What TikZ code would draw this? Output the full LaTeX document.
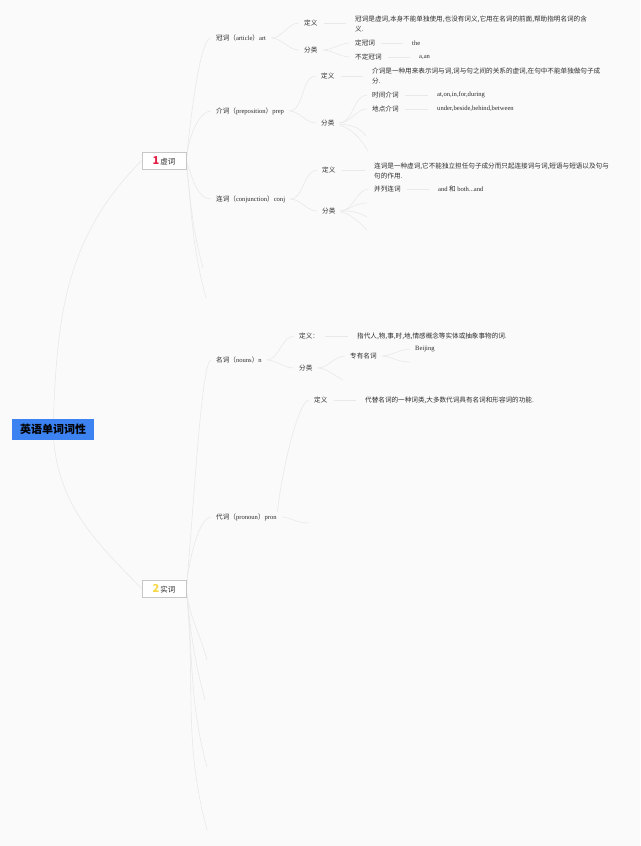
\documentclass[tikz,border=0pt]{standalone}
\usepackage{fontspec}
\setmainfont{Noto Sans CJK SC}
\newfontfamily\en{Liberation Serif}
\usetikzlibrary{backgrounds}

\definecolor{linec}{RGB}{233,233,235}
\definecolor{txt}{RGB}{45,45,45}
\definecolor{rootblue}{RGB}{60,130,240}
\definecolor{bgc}{RGB}{250,250,251}
\definecolor{numred}{RGB}{226,34,70}
\definecolor{numyel}{RGB}{247,216,72}

\begin{document}
\begin{tikzpicture}[x=1pt, y=1pt,
    every node/.style={inner sep=0pt, text=txt, font=\fontsize{6.6}{10}\selectfont},
    tl/.style={anchor=west},
    note/.style={anchor=west, align=left},
    topic/.style={draw=black!22, fill=white, minimum width=44pt, minimum height=17pt},
    lk/.style={draw=linec, line width=0.6pt, shorten <=5pt, shorten >=5pt},
    leaf/.style={lk, shorten <=6pt, shorten >=9pt},
    stub/.style={draw=linec, line width=0.6pt, shorten <=5pt},
    rise/.style={out=84, in=180, out distance=60pt, in distance=15pt},
    drop/.style={out=-84, in=105},
    br/.style={out=0, in=180}]
    % page is 640 x 846, origin at the top left corner, y runs down
    \useasboundingbox (0,0) rectangle (640,-846);

    % Root and the two main topics
    \node[fill=rootblue, text=black, minimum width=82pt, minimum height=21pt,
          font=\fontsize{11}{11}\selectfont\bfseries] (root) at (53,-429.5) {英语单词词性};
    \node[topic] (xu) at (164,-160.5)
        {{\fontsize{11}{11}\selectfont\bfseries\color{numred}1}\,{\fontsize{7.5}{8}\selectfont 虚词}};
    \node[topic] (shi) at (164,-588.5)
        {{\fontsize{11}{11}\selectfont\bfseries\color{numyel}2}\,{\fontsize{7.5}{8}\selectfont 实词}};

    % Article
    \node[tl] (gc) at (216,-38) {冠词（{\en article}）{\en art}};
    \node[tl] (gcdy) at (304,-23) {定义};
    \node[tl] (gcfl) at (304,-50) {分类};
    \node[note] (gcdef) at (355,-24) {冠词是虚词,本身不能单独使用,也没有词义,它用在名词的前面,帮助指明名词的含\\义.};
    \node[tl] (gcd) at (355,-43) {定冠词};
    \node[tl] (gcdv) at (412,-43) {\en the};
    \node[tl] (gcb) at (355,-57) {不定冠词};
    \node[tl] (gcbv) at (419,-57) {\en a,an};

    % Preposition
    \node[tl] (jc) at (216,-111) {介词（{\en preposition}）{\en prep}};
    \node[tl] (jcdy) at (321,-76) {定义};
    \node[tl] (jcfl) at (321,-123) {分类};
    \node[note] (jcdef) at (372,-76) {介词是一种用来表示词与词,词与句之间的关系的虚词,在句中不能单独做句子成\\分.};
    \node[tl] (sj) at (372,-95) {时间介词};
    \node[tl] (sjv) at (437,-95) {\en at,on,in,for,during};
    \node[tl] (dd) at (372,-109) {地点介词};
    \node[tl] (ddv) at (437,-109) {\en under,beside,behind,between};
    \coordinate (jcE1) at (366,-136);
    \coordinate (jcE2) at (368,-151);

    % Conjunction
    \node[tl] (lc) at (216,-199) {连词（{\en conjunction}）{\en conj}};
    \node[tl] (lcdy) at (322,-170) {定义};
    \node[tl] (lcfl) at (322,-211) {分类};
    \node[note] (lcdef) at (374,-171) {连词是一种虚词,它不能独立担任句子成分而只起连接词与词,短语与短语以及句与\\句的作用.};
    \node[tl] (bl) at (374,-189) {并列连词};
    \node[tl] (blv) at (438,-189) {{\en and} 和 {\en both...and}};
    \coordinate (lcE1) at (367,-203);
    \coordinate (lcE2) at (367,-217);
    \coordinate (lcE3) at (367,-230);

    % empty branches under the first topic
    \coordinate (xuE1) at (203,-268);
    \coordinate (xuE2) at (206,-298);

    % Noun
    \node[tl] (mc) at (216,-360) {名词（{\en nouns}）{\en n}};
    \node[tl] (mcdy) at (299,-336) {定义：};
    \node[tl] (mcfl) at (299,-368) {分类};
    \node[tl] (mcdef) at (357,-336) {指代人,物,事,时,地,情感概念等实体或抽象事物的词.};
    \node[tl] (zy) at (350,-356) {专有名词};
    \node[tl] (zyv) at (415,-349) {\en Beijing};
    \coordinate (zyE) at (410,-362);
    \coordinate (mcE) at (343,-380);

    % Pronoun
    \node[tl] (dc) at (216,-517) {代词（{\en pronoun}）{\en pron}};
    \node[tl] (dcdy) at (314,-400) {定义};
    \node[tl] (dcdef) at (365,-400) {代替名词的一种词类,大多数代词具有名词和形容词的功能.};
    \coordinate (dcE) at (309,-523);

    % empty branches under the second topic
    \coordinate (shiE1) at (207,-660);
    \coordinate (shiE2) at (205,-700);
    \coordinate (shiE3) at (207,-767);
    \coordinate (shiE4) at (207,-830);

    \begin{scope}[on background layer]
        \fill[bgc] (0,0) rectangle (640,-846);

        % root to main topics
        \draw[linec, line width=0.6pt] (root.center) to[out=88, in=225] (xu.west);
        \draw[linec, line width=0.6pt] (root.center) to[out=-88, in=135] (shi.west);

        % first topic
        \draw[lk, shorten <=0pt] (xu.east) to[rise] (gc.west);
        \draw[lk, shorten <=0pt] (xu.east) to[rise, out distance=30pt] (jc.west);
        \draw[lk, shorten <=0pt] (xu.east) to[out=-70, in=180] (lc.west);
        \draw[stub, shorten <=0pt] (xu.east) to[drop] (xuE1);
        \draw[stub, shorten <=0pt] (xu.east) to[drop] (xuE2);

        \draw[lk] (gc.east) to[br] (gcdy.west);
        \draw[lk] (gc.east) to[br] (gcfl.west);
        \draw[leaf] (gcdy.east) -- (gcdef.west |- gcdy.east);
        \draw[lk] (gcfl.east) to[br] (gcd.west);
        \draw[lk] (gcfl.east) to[br] (gcb.west);
        \draw[leaf] (gcd.east) -- (gcdv.west);
        \draw[leaf] (gcb.east) -- (gcbv.west);

        \draw[lk] (jc.east) to[br] (jcdy.west);
        \draw[lk] (jc.east) to[br] (jcfl.west);
        \draw[leaf] (jcdy.east) -- (jcdef.west |- jcdy.east);
        \draw[lk] (jcfl.east) to[br] (sj.west);
        \draw[lk] (jcfl.east) to[br] (dd.west);
        \draw[stub] (jcfl.east) to[out=-10, in=125] (jcE1);
        \draw[stub] (jcfl.east) to[out=-20, in=120] (jcE2);
        \draw[leaf] (sj.east) -- (sjv.west);
        \draw[leaf] (dd.east) -- (ddv.west);

        \draw[lk] (lc.east) to[br] (lcdy.west);
        \draw[lk] (lc.east) to[br] (lcfl.west);
        \draw[leaf] (lcdy.east) -- (lcdef.west |- lcdy.east);
        \draw[lk] (lcfl.east) to[br] (bl.west);
        \draw[stub] (lcfl.east) to[br] (lcE1);
        \draw[stub] (lcfl.east) to[out=0, in=150] (lcE2);
        \draw[stub] (lcfl.east) to[out=-10, in=135] (lcE3);
        \draw[leaf] (bl.east) -- (blv.west);

        % second topic
        \draw[lk, shorten <=0pt] (shi.east) to[rise] (mc.west);
        \draw[lk, shorten <=0pt] (shi.east) to[rise, out distance=40pt] (dc.west);
        \draw[stub, shorten <=0pt] (shi.east) to[drop] (shiE1);
        \draw[stub, shorten <=0pt] (shi.east) to[drop] (shiE2);
        \draw[stub, shorten <=0pt] (shi.east) to[drop] (shiE3);
        \draw[stub, shorten <=0pt] (shi.east) to[drop] (shiE4);

        \draw[lk] (mc.east) to[br] (mcdy.west);
        \draw[lk] (mc.east) to[br] (mcfl.west);
        \draw[leaf] (mcdy.east) -- (mcdef.west);
        \draw[lk] (mcfl.east) to[br] (zy.west);
        \draw[stub] (mcfl.east) to[out=0, in=150] (mcE);
        \draw[lk] (zy.east) to[br] (zyv.west);
        \draw[stub] (zy.east) to[br] (zyE);

        \draw[lk] (dc.east) to[rise, out distance=50pt] (dcdy.west);
        \draw[stub] (dc.east) to[br] (dcE);
        \draw[leaf] (dcdy.east) -- (dcdef.west);
    \end{scope}
\end{tikzpicture}
\end{document}
